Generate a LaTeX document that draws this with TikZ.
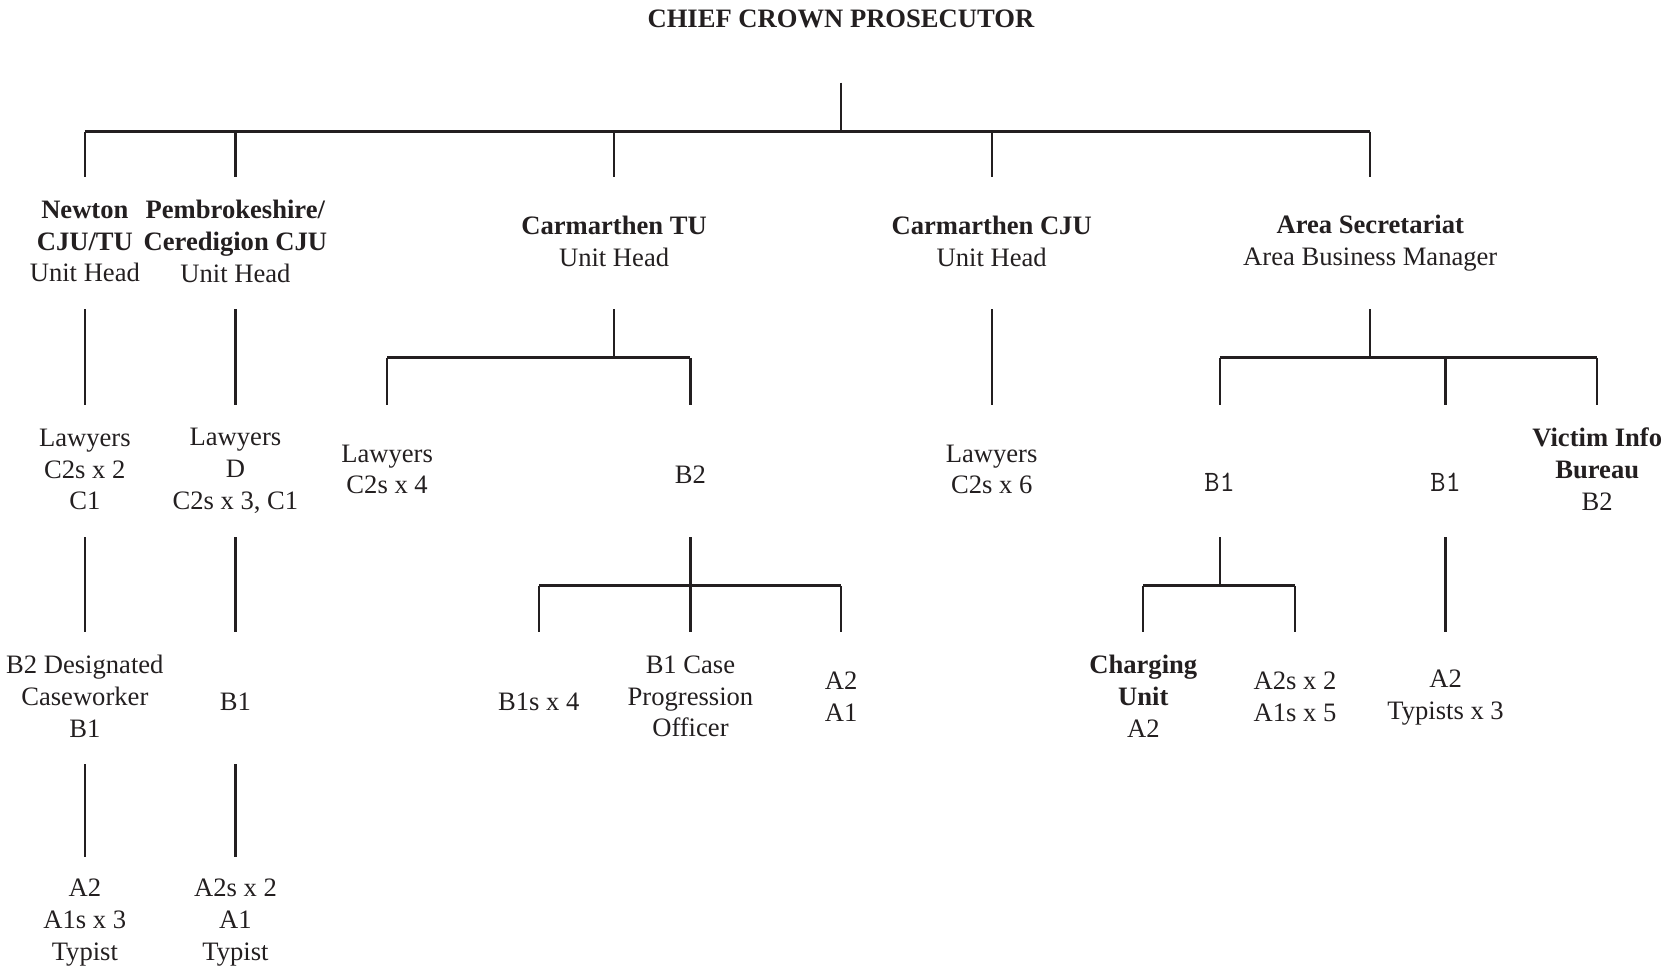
\documentclass[tikz,border=0pt]{standalone}
\usepackage{fontspec}
\setmainfont{Liberation Serif}
\definecolor{ink}{HTML}{231F20}
\newcommand{\mystrut}{\rule[-1.55pt]{0pt}{15.9pt}}
\begin{document}
\begin{tikzpicture}[x=0.5303pt,y=-0.5303pt,
  box/.style={minimum height=65.8pt, inner sep=0pt, align=center,
    font=\fontsize{13.3}{15.9}\selectfont, text=ink,
    execute at begin node=\mystrut, execute at end node=\mystrut},
  vl/.style={line width=1.1pt, draw=ink},
  hb/.style={line width=1.5pt, draw=ink}]
\useasboundingbox (0,0) rectangle (1568,917);

\newcommand{\mB}{\raisebox{-4pt}[\height][\depth]{\fontsize{14.8}{15.9}\ttfamily B1}}

% title
\node[box] (title) at (793,14) {\textbf{CHIEF CROWN PROSECUTOR}};

% row 1
\node[box] (n1) at (80,229) {\textbf{Newton}\\\textbf{CJU/TU}\\Unit Head};
\node[box] (p1) at (222,229) {\textbf{Pembrokeshire/}\\\textbf{Ceredigion CJU}\\Unit Head};
\node[box] (t1) at (579,229) {\textbf{Carmarthen TU}\\Unit Head};
\node[box] (c1) at (935,229) {\textbf{Carmarthen CJU}\\Unit Head};
\node[box] (a1) at (1292,229) {\textbf{Area Secretariat}\\Area Business Manager};

% row 2
\node[box] (n2) at (80,444) {Lawyers\\C2s x 2\\C1};
\node[box] (p2) at (222,444) {Lawyers\\D\\C2s x 3, C1};
\node[box] (t2L) at (365,444) {Lawyers\\C2s x 4};
\node[box] (t2R) at (651,444) {B2};
\node[box] (c2) at (935,444) {Lawyers\\C2s x 6};
\node[box] (a2L) at (1150,444) {\mB};
\node[box] (a2M) at (1363,444) {\mB};
\node[box] (a2R) at (1506,444) {\textbf{Victim Info}\\\textbf{Bureau}\\B2};

% row 3
\node[box] (n3) at (80,658) {B2 Designated\\Caseworker\\B1};
\node[box] (p3) at (222,658) {B1};
\node[box] (b3L) at (508,658) {B1s x 4};
\node[box] (b3M) at (651,658) {B1 Case\\Progression\\Officer};
\node[box] (b3R) at (793,658) {A2\\A1};
\node[box] (a3L) at (1078,658) {\textbf{Charging}\\\textbf{Unit}\\A2};
\node[box] (a3R) at (1221,658) {A2s x 2\\A1s x 5};
\node[box] (a3M) at (1363,658) {A2\\Typists x 3};

% row 4
\node[box] (n4) at (80,870) {A2\\A1s x 3\\Typist};
\node[box] (p4) at (222,870) {A2s x 2\\A1\\Typist};

% top bus
\draw[vl] (793,78) coordinate (top) -- ++(0,46) coordinate (bus);
\draw[hb] (n1.north |- bus) -- (a1.north |- bus);
\foreach \k in {n1,p1,t1,c1,a1} \draw[vl] (\k.north |- bus) -- (\k.north);

% straight links
\draw[vl] (n1.south) -- (n2.north);
\draw[vl] (p1.south) -- (p2.north);
\draw[vl] (c1.south) -- (c2.north);
\draw[vl] (n2.south) -- (n3.north);
\draw[vl] (p2.south) -- (p3.north);
\draw[vl] (a2M.south) -- (a3M.north);
\draw[vl] (n3.south) -- (n4.north);
\draw[vl] (p3.south) -- (p4.north);

% Carmarthen TU branch
\draw[vl] (t1.south) -- ++(0,46) coordinate (tj);
\draw[hb] (t2L.north |- tj) -- (t2R.north |- tj);
\foreach \k in {t2L,t2R} \draw[vl] (\k.north |- tj) -- (\k.north);

% Area Secretariat branch
\draw[vl] (a1.south) -- ++(0,46) coordinate (aj);
\draw[hb] (a2L.north |- aj) -- (a2R.north |- aj);
\foreach \k in {a2L,a2M,a2R} \draw[vl] (\k.north |- aj) -- (\k.north);

% B2 branch
\draw[vl] (t2R.south) -- ++(0,46) coordinate (bj);
\draw[hb] (b3L.north |- bj) -- (b3R.north |- bj);
\foreach \k in {b3L,b3M,b3R} \draw[vl] (\k.north |- bj) -- (\k.north);

% B1 branch
\draw[vl] (a2L.south) -- ++(0,46) coordinate (cj);
\draw[hb] (a3L.north |- cj) -- (a3R.north |- cj);
\foreach \k in {a3L,a3R} \draw[vl] (\k.north |- cj) -- (\k.north);
\end{tikzpicture}
\end{document}
